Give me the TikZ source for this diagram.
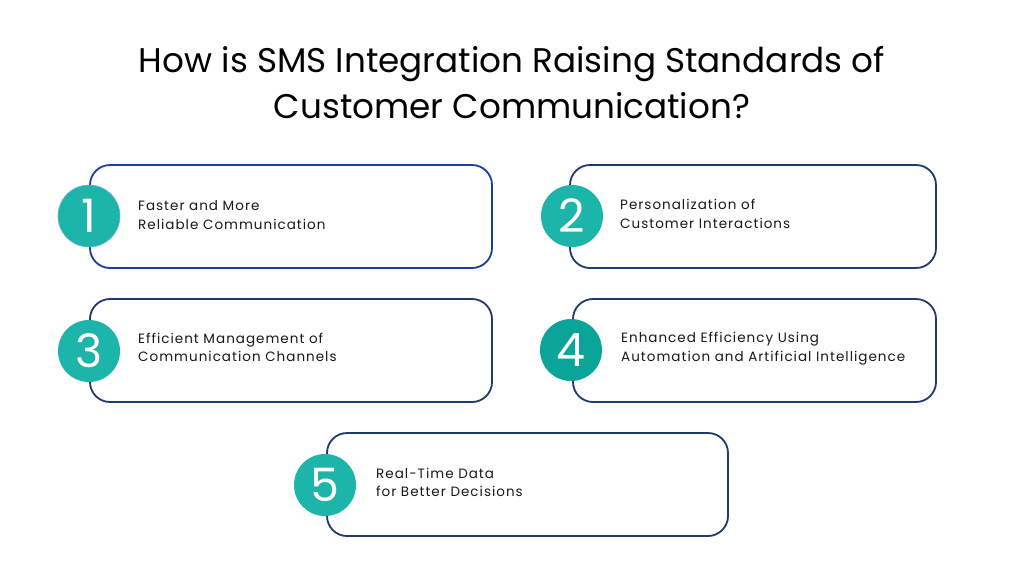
\documentclass[tikz,border=0pt]{standalone}
\usepackage{fontspec}
\setmainfont{Poppins}
\newfontfamily\bodyfont[LetterSpace=7.5]{Poppins}
\definecolor{navy}{RGB}{30,58,112}
\definecolor{royal}{RGB}{28,62,160}
\definecolor{teal1}{RGB}{29,180,170}
\definecolor{teal2}{RGB}{10,165,152}
\definecolor{ink}{RGB}{25,25,25}
\tikzset{
  card/.style={draw=navy, line width=1.8pt, rounded corners=20pt, fill=white, inner sep=0pt},
  badge/.style={circle, fill=teal1, minimum size=62pt, inner sep=0pt, text=white, font=\fontsize{46}{46}\selectfont},
  label/.style={anchor=west, align=left, text=ink, inner sep=0pt, font=\bodyfont\fontsize{13.5}{18.5}\selectfont},
  title/.style={align=center, text=black, inner sep=0pt, font=\fontsize{34.2}{46}\selectfont}
}
\begin{document}
\begin{tikzpicture}[x=1pt,y=-1pt]
\useasboundingbox (0,0) rectangle (1024,576);
\fill[white] (0,0) rectangle (1024,576);
\node[title] (title) at (512,83) {How is SMS Integration Raising Standards of\\Customer Communication?};

\node[card, draw=royal, minimum width=402pt, minimum height=103pt] (b1) at (291,216.5) {};
\node[card, minimum width=366pt, minimum height=103pt] (b2) at (753,216.5) {};
\node[card, minimum width=402pt, minimum height=103pt] (b3) at (291,350.5) {};
\node[card, minimum width=363pt, minimum height=103pt] (b4) at (754.5,350.5) {};
\node[card, minimum width=401pt, minimum height=103pt] (b5) at (527.5,484.5) {};

\node[badge, draw=teal1!70!blue!60, line width=0.6pt] (c1) at (89,216) {1};
\node[badge] (c2) at (572,216) {2};
\node[badge] (c3) at (89,351) {3};
\node[badge, fill=teal2] (c4) at (571,350) {4};
\node[badge] (c5) at (325,485) {5};

\node[label] (t1) at (138,215) {Faster and More\\Reliable Communication};
\node[label] (t2) at (620,214) {Personalization of\\Customer Interactions};
\node[label] (t3) at (138,347.5) {Efficient Management of\\Communication Channels};
\node[label] (t4) at (621,348.5) {Enhanced Efficiency Using\\Automation and Artificial Intelligence};
\node[label] (t5) at (376,482.5) {Real-Time Data\\for Better Decisions};
\end{tikzpicture}
\end{document}
